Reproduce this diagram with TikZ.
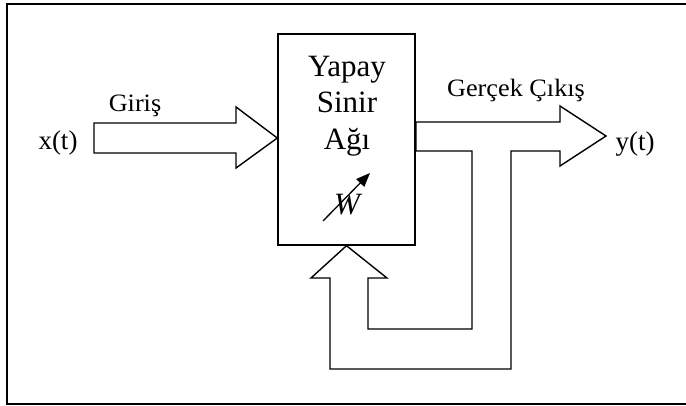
\documentclass[tikz,border=0pt]{standalone}
\usepackage{fontspec}
\setmainfont{Liberation Serif}
\usepackage{tikz}
\usetikzlibrary{arrows.meta}

\begin{document}
\begin{tikzpicture}[x=1pt,y=-1pt,line width=1.4pt,line join=miter,
    lbl/.style={font=\fontsize{27}{30}\selectfont,anchor=base},
    boxtxt/.style={font=\fontsize{31}{36}\selectfont,anchor=base},
    toptxt/.style={font=\fontsize{25}{28}\selectfont,anchor=base}]
    \useasboundingbox (0,0) rectangle (686,406);
    % frame, open on the right
    \draw (686,4) -- (7,4) -- (7,404) -- (686,404);
    % network block
    \node[draw,minimum width=137pt,minimum height=211pt,inner sep=0pt] (ysa) at (346.5,139.5) {};
    \node[boxtxt] (l1) at (347,77) {Yapay};
    \node[boxtxt] (l2) at (347,113) {Sinir};
    \node[boxtxt] (l3) at (347,150) {Ağı};
    \node[boxtxt] (w) at (347,215) {\itshape W};
    \path (323,221) coordinate (wa); \path (370,173) coordinate (wb);
    \draw[line width=1.3pt,-{Triangle[length=14pt,width=11pt]}] (wa) -- (wb);
    % input arrow
    \path (94,123) coordinate (in1); \path (236,107) coordinate (in2);
    \path (ysa.west |- 0,138) coordinate (intip);
    \draw (in1) -- (236,123) -- (in2) -- (intip) -- (236,168) -- (236,153) -- (94,153) -- cycle;
    \node[lbl] (x) at (58,150) {x(t)};
    \node[toptxt] (giris) at (135,112) {\scalebox{1.05}[1]{Giriş}};
    % output arrow with feedback loop
    \path (416,122) coordinate (out1); \path (606,136) coordinate (outtip);
    \path (ysa.south) coordinate (fbtip);
    \draw (out1) -- (560,122) -- (560,106) -- (outtip) -- (560,166) -- (560,151)
      -- (511,151) -- (511,369) -- (330,369) -- (330,278) -- (311,278) -- (fbtip)
      -- (387,278) -- (368,278) -- (368,329) -- (472,329) -- (472,151) -- (416,151) -- cycle;
    \node[lbl] (y) at (635,151) {y(t)};
    \node[toptxt] (cikis) at (516,97) {\scalebox{1.05}[1]{Gerçek Çıkış}};
\end{tikzpicture}
\end{document}
